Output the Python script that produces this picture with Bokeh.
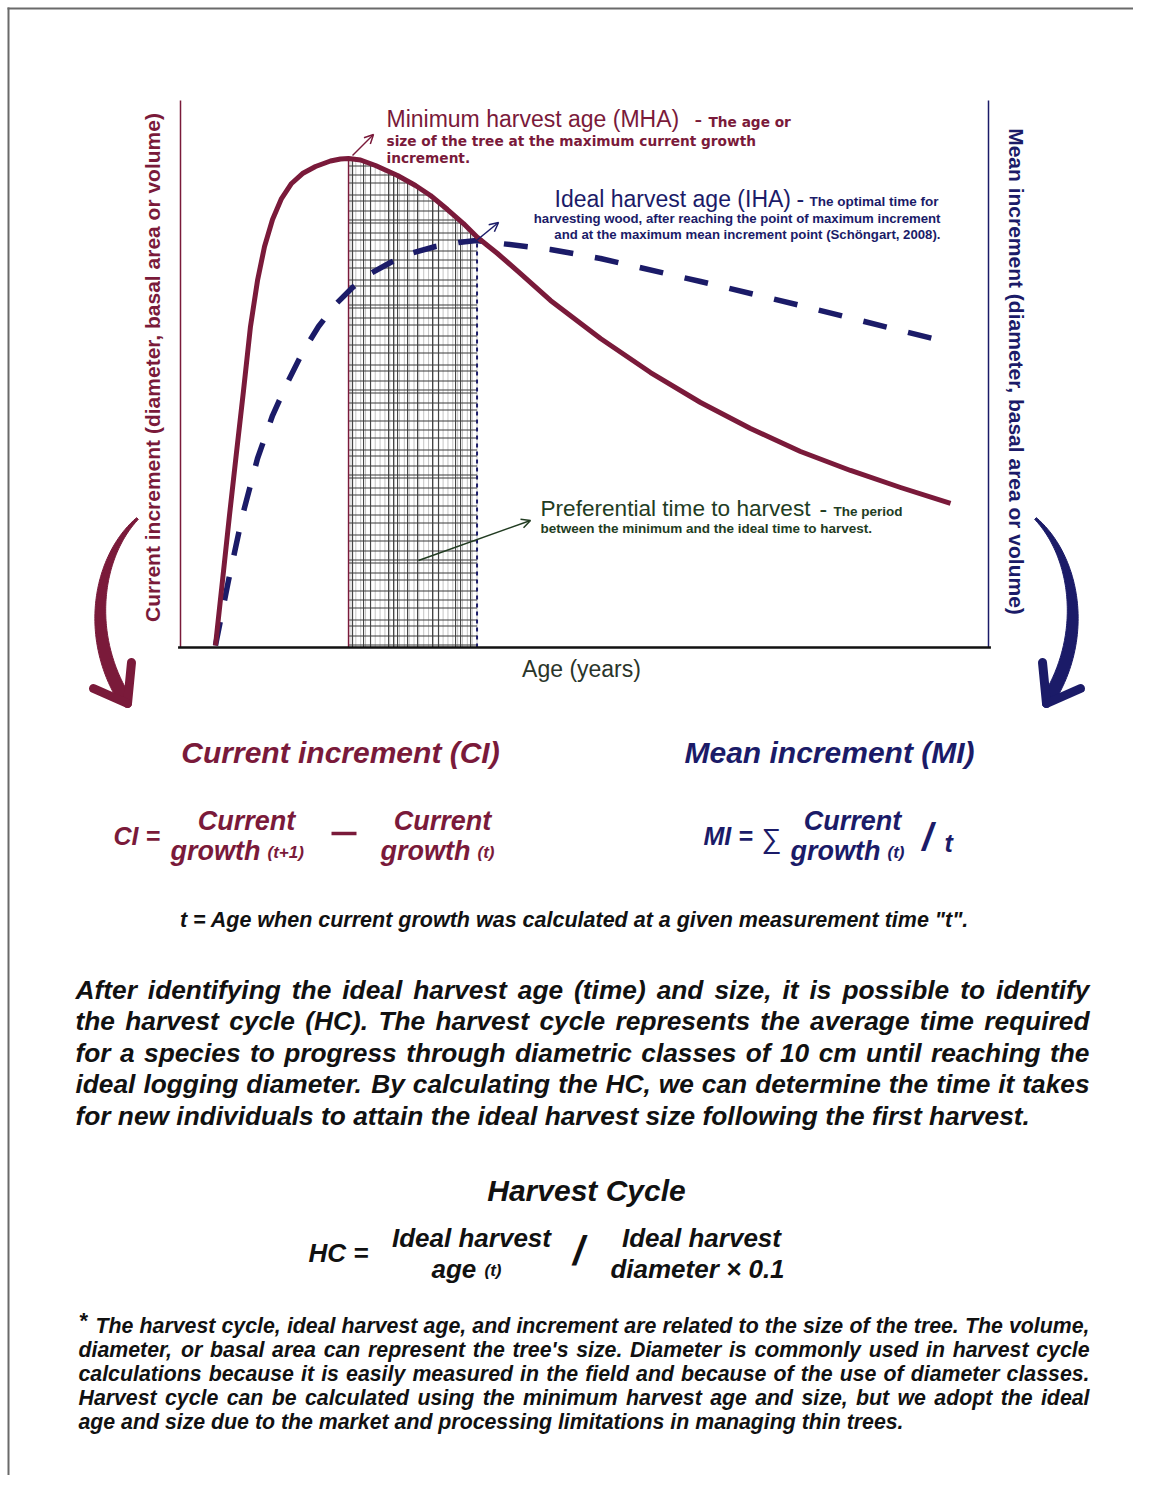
import numpy as np
from bokeh.plotting import figure
from bokeh.models import Range1d, Label, Arrow, OpenHead
from bokeh.core.properties import value
from bokeh.embed import file_html
from bokeh.resources import INLINE

# ---------------- data (age in years, increment in relative units) ----------------
ci_age = [4.33, 5.2, 6.06, 6.93, 7.8, 8.66, 9.53, 10.4, 11.39, 12.5, 13.74, 15.1, 16.71, 18.56,
          19.8, 20.79, 22.28, 24.13, 26.86, 29.08, 30.94, 33.04, 35.02, 36.76, 39.23, 42.08,
          45.79, 51.98, 58.17, 64.36, 70.54, 76.73, 82.92, 89.11, 95.3]
ci_val = [0.37, 12.25, 24.13, 35.65, 46.98, 58.68, 67.09, 73.31, 78.24, 82.08, 84.83, 86.65,
          87.93, 88.94, 89.31, 89.4, 89.12, 88.12, 86.29, 84.46, 82.63, 80.07, 77.51, 74.95,
          72.03, 68.37, 63.44, 56.49, 50.27, 44.79, 40.04, 35.83, 32.36, 29.25, 26.33]
mi_age = [4.33, 5.94, 7.67, 9.53, 11.39, 13.24, 15.1, 17.08, 19.18, 21.29, 23.51, 25.99, 28.47,
          31.56, 34.41, 36.63, 39.98, 45.79, 51.98, 64.36, 76.73, 95.05]
mi_val = [0.37, 12.25, 24.13, 34.55, 42.41, 48.45, 53.93, 58.68, 62.71, 65.81, 68.37, 70.38,
          72.03, 73.31, 74.04, 74.41, 73.8, 72.76, 71.12, 66.91, 62.52, 55.76]
MHA_AGE = 20.8
IHA_AGE = 36.7

MAROON = "#7a1a3a"
NAVY = "#1b1b68"
GREEN = "#223c22"
INK = "#111111"

PARA_LINES = [
    "After identifying the ideal harvest age (time) and size, it is possible to identify",
    "the harvest cycle (HC). The harvest cycle represents the average time required",
    "for a species to progress through diametric classes of 10 cm until reaching the",
    "ideal logging diameter. By calculating the HC, we can determine the time it takes",
    "for new individuals to attain the ideal harvest size following the first harvest.",
]
FOOT_LINES = [
    "The harvest cycle, ideal harvest age, and increment are related to the size of the tree. The volume,",
    "diameter, or basal area can represent the tree's size. Diameter is commonly used in harvest cycle",
    "calculations because it is easily measured in the field and because of the use of diameter classes.",
    "Harvest cycle can be calculated using the minimum harvest age and size, but we adopt the ideal",
    "age and size due to the market and processing limitations in managing thin trees.",
]

# ---------------- figure in page coordinates ----------------
W, H = 1133, 1475
p = figure(width=W, height=H, x_range=Range1d(0, W), y_range=Range1d(0, H),
           output_backend="svg", toolbar_location=None, x_axis_type=None, y_axis_type=None,
           min_border=0)
p.xgrid.visible = False
p.ygrid.visible = False
p.outline_line_color = None
p.background_fill_color = "white"
p.border_fill_color = "white"


def Y(v):
    return H - np.asarray(v, dtype=float)


# chart scales (age 0..100 -> px 180..988 ; increment 0..100 -> px 647..100)
X0, XS = 180.0, 8.08
Y0, YS = 647.0, 5.47
p.extra_x_ranges = {"age": Range1d((0 - X0) / XS, (W - X0) / XS)}
p.extra_y_ranges = {"inc": Range1d((0 - (H - Y0)) / YS, (H - (H - Y0)) / YS)}
kw = dict(x_range_name="age", y_range_name="inc")

# page border
p.segment(x0=[8, 7], y0=[float(Y(7)), float(Y(8))], x1=[8, W], y1=[float(Y(H)), float(Y(8))],
          line_color="#6a6a6a", line_width=2)

# ---------------- hatch (preferential harvest period) ----------------
ci_a = np.array(ci_age)
ci_v = np.array(ci_val)
light_x = np.arange(MHA_AGE + 0.3, IHA_AGE, 0.6)
p.segment(x0=light_x, y0=0, x1=light_x, y1=np.interp(light_x, ci_a, ci_v),
          line_color="#c4c4c4", line_width=1, **kw)
dark_off_px = [4, 15, 22, 40, 45, 49, 59, 69, 84, 90, 107, 112, 122]
dark_x = MHA_AGE + np.array(dark_off_px) / XS
p.segment(x0=dark_x, y0=0, x1=dark_x, y1=np.interp(dark_x, ci_a, ci_v),
          line_color="#444444", line_width=1.1, **kw)
ipk = int(np.argmax(ci_v))
desc_a, desc_v = ci_a[ipk:], ci_v[ipk:]
gaps_px = [9, 10, 6, 12, 8, 9, 11, 7, 10, 3]
hy, k = 2.5, 0
h_levels = []
while True:
    h = hy / YS
    if h >= ci_v.max() - 0.3:
        break
    h_levels.append(h)
    hy += gaps_px[k % len(gaps_px)]
    k += 1
h_levels = np.array(h_levels)
right_end = np.minimum(IHA_AGE, np.interp(h_levels, desc_v[::-1], desc_a[::-1]))
p.segment(x0=np.full_like(h_levels, MHA_AGE), y0=h_levels, x1=right_end, y1=h_levels,
          line_color="#3a3a3a", line_width=1.1, **kw)

# boundaries of the period
p.segment(x0=[MHA_AGE], y0=[0], x1=[MHA_AGE], y1=[float(np.interp(MHA_AGE, ci_a, ci_v))],
          line_color=MAROON, line_width=1.5, **kw)
p.segment(x0=[IHA_AGE], y0=[0], x1=[IHA_AGE], y1=[float(np.interp(IHA_AGE, ci_a, ci_v))],
          line_color=NAVY, line_width=2, line_dash="4 4", **kw)

# ---------------- axes ----------------
p.segment(x0=[0], y0=[0], x1=[0], y1=[100], line_color=MAROON, line_width=1.5, **kw)
p.segment(x0=[100], y0=[0], x1=[100], y1=[100], line_color=NAVY, line_width=1.5, **kw)
p.segment(x0=[-0.3], y0=[0], x1=[100.3], y1=[0], line_color="#111111", line_width=2.5, **kw)

# ---------------- curves ----------------
p.line(mi_age, mi_val, line_color=NAVY, line_width=5.5, line_dash="24 22", **kw)
p.line(ci_age, ci_val, line_color=MAROON, line_width=5, line_join="round", **kw)


# ---------------- labels ----------------
def lab(x, y, text, size, color="black", font="Liberation Sans", style="normal",
        align="left", baseline="middle", angle=0.0):
    p.add_layout(Label(x=x, y=float(Y(y)), text=text, text_font_size=f"{size}px",
                       text_color=color, text_font=font, text_font_style=style,
                       text_align=align, text_baseline=baseline, angle=angle))


lab(152, 367, "Current increment (diameter, basal area or volume)", 21, MAROON, style="bold",
    align="center", angle=np.pi / 2)
lab(1016, 371, "Mean increment (diameter, basal area or volume)", 21, NAVY, style="bold",
    align="center", angle=-np.pi / 2)
lab(581, 668, "Age (years)", 23, "#2a352a", align="center")

# MHA
lab(386, 118, "Minimum harvest age (MHA)", 23, MAROON)
lab(694, 118, "-", 23, MAROON)
lab(708, 121, "The age or", 13.7, MAROON, font="DejaVu Sans", style="bold")
lab(386, 140, "size of the tree at the maximum current growth", 13.7, MAROON, font="DejaVu Sans", style="bold")
lab(386, 157, "increment.", 13.7, MAROON, font="DejaVu Sans", style="bold")
# IHA
lab(554, 198, "Ideal harvest age (IHA)", 23, NAVY)
lab(796, 198, "-", 23, NAVY)
lab(809, 201, "The optimal time for", 13.5, NAVY, style="bold")
lab(940, 218, "harvesting wood, after reaching the point of maximum increment", 13.2, NAVY,
    style="bold", align="right")
lab(940, 234, "and at the maximum mean increment point (Schöngart, 2008).", 13.2, NAVY,
    style="bold", align="right")
# Preferential
lab(540, 508, "Preferential time to harvest", 22.6, GREEN)
lab(819, 508, "-", 23, GREEN)
lab(833, 511, "The period", 13.5, GREEN, style="bold")
lab(540, 528, "between the minimum and the ideal time to harvest.", 13.5, GREEN, style="bold")

# annotation arrows
for (xs, ys, xe, ye, c) in [(352, 155, 373, 134, MAROON), (476, 240, 498, 222, NAVY),
                            (418, 560, 530, 520, GREEN)]:
    p.add_layout(Arrow(end=OpenHead(size=9, line_color=c, line_width=1.5),
                       x_start=xs, y_start=float(Y(ys)), x_end=xe, y_end=float(Y(ye)),
                       line_color=c, line_width=1.5))


# ---------------- big curved arrows ----------------
def taper(P0, P1, P2, P3, w0, w1, n=80):
    t = np.linspace(0, 1, n)[:, None]
    P0, P1, P2, P3 = (np.array(v, float) for v in (P0, P1, P2, P3))
    pts = (1 - t) ** 3 * P0 + 3 * (1 - t) ** 2 * t * P1 + 3 * (1 - t) * t ** 2 * P2 + t ** 3 * P3
    d = np.gradient(pts, axis=0)
    d /= np.linalg.norm(d, axis=1)[:, None]
    nrm = np.stack([-d[:, 1], d[:, 0]], axis=1)
    w = (w0 + (w1 - w0) * np.sin(t[:, 0] * np.pi / 2))[:, None]
    poly = np.vstack([pts + nrm * w, (pts - nrm * w)[::-1]])
    return poly[:, 0], Y(poly[:, 1])


bx, by = taper((137, 518), (98, 555), (84, 632), (123, 697), 1.2, 6.5)
p.patch(bx, by, fill_color=MAROON, line_color=MAROON, line_width=1)
p.multi_line([[127, 131], [127, 93]], [list(Y([703, 662])), list(Y([703, 688]))],
             line_color=MAROON, line_width=9, line_cap="round", line_join="round")
bx, by = taper((1035, 518), (1074, 555), (1088, 632), (1049, 697), 1.2, 6.5)
p.patch(bx, by, fill_color=NAVY, line_color=NAVY, line_width=1)
p.multi_line([[1046, 1042], [1046, 1080]], [list(Y([703, 662])), list(Y([703, 688]))],
             line_color=NAVY, line_width=9, line_cap="round", line_join="round")

# ---------------- formulas ----------------
BI = "bold italic"
lab(340, 752, "Current increment (CI)", 30, MAROON, style=BI, align="center")
lab(829, 752, "Mean increment (MI)", 30, NAVY, style=BI, align="center")

lab(113, 835, "CI =", 25, MAROON, style=BI)
lab(246, 820, "Current", 27, MAROON, style=BI, align="center")
lab(170, 850, "growth", 27, MAROON, style=BI)
lab(267, 852, "(t+1)", 17, MAROON, style=BI)
p.segment(x0=[331], y0=[float(Y(833))], x1=[356], y1=[float(Y(833))], line_color=MAROON, line_width=3.5)
lab(442, 820, "Current", 27, MAROON, style=BI, align="center")
lab(380, 850, "growth", 27, MAROON, style=BI)
lab(477, 852, "(t)", 17, MAROON, style=BI)

lab(703, 835, "MI =", 25, NAVY, style=BI)
lab(761, 838, "∑", 28, NAVY)
lab(852, 820, "Current", 27, NAVY, style=BI, align="center")
lab(790, 850, "growth", 27, NAVY, style=BI)
lab(887, 852, "(t)", 17, NAVY, style=BI)
lab(927, 836, "/", 38, NAVY, style=BI, align="center")
lab(944, 842, "t", 25, NAVY, style=BI)

lab(577, 919, 't =  Age when current growth was calculated at a given measurement time "t".', 21.5,
    INK, style=BI, align="center")

# ---------------- justified text blocks (Arial/Liberation bold metrics, per 1000 em) ----------------
ADV = {" ": 278, "(": 333, ")": 333, ",": 278, ".": 278, "'": 238, "-": 333, "\"": 474}
ADV.update({d: 556 for d in "0123456789"})
ADV.update(dict(zip("ABCDEFGHIJKLMNOPQRSTUVWXYZ",
                    [722, 722, 722, 722, 667, 611, 778, 722, 278, 556, 722, 611, 833, 722, 778,
                     667, 778, 722, 667, 611, 722, 667, 944, 667, 667, 611])))
ADV.update(dict(zip("abcdefghijklmnopqrstuvwxyz",
                    [556, 611, 556, 611, 556, 333, 611, 611, 278, 278, 556, 278, 889, 611, 611,
                     611, 611, 389, 556, 333, 611, 556, 778, 556, 556, 500])))


def text_w(s, size):
    return sum(ADV.get(c, 556) for c in s) * size / 1000.0


def justified(lines, x_first, x_left, right, y0, dy, size, justify_last=False):
    xs, ys, ws = [], [], []
    for i, line in enumerate(lines):
        words = line.split(" ")
        left = x_first if i == 0 else x_left
        widths = [text_w(w, size) for w in words]
        if i < len(lines) - 1 or justify_last:
            gap = (right - left - sum(widths)) / (len(words) - 1)
        else:
            gap = text_w(" ", size)
        x = left
        for w, wd in zip(words, widths):
            xs.append(x)
            ys.append(float(Y(y0 + i * dy)))
            ws.append(w)
            x += wd + gap
    p.text(x=xs, y=ys, text=ws, text_font=value("Liberation Sans"), text_font_style="bold italic",
           text_font_size=value(f"{size}px"), text_color=INK, text_baseline="middle",
           text_align="left")


justified(PARA_LINES, 75, 75, 1089, 989, 31.5, 26.3)

lab(586, 1190, "Harvest Cycle", 30, INK, style=BI, align="center")
lab(308, 1252, "HC =", 26, INK, style=BI)
lab(471, 1237, "Ideal harvest", 26, INK, style=BI, align="center")
lab(431, 1268, "age", 26, INK, style=BI)
lab(484, 1270, "(t)", 17, INK, style=BI)
lab(578, 1250, "/", 40, INK, style=BI, align="center")
lab(701, 1237, "Ideal harvest", 26, INK, style=BI, align="center")
lab(697, 1268, "diameter × 0.1", 26, INK, style=BI, align="center")

lab(79, 1320, "*", 22, INK, style="bold")
justified(FOOT_LINES, 95, 78, 1089, 1325, 24.2, 21.3)

open("out.html", "w").write(file_html(p, INLINE))
